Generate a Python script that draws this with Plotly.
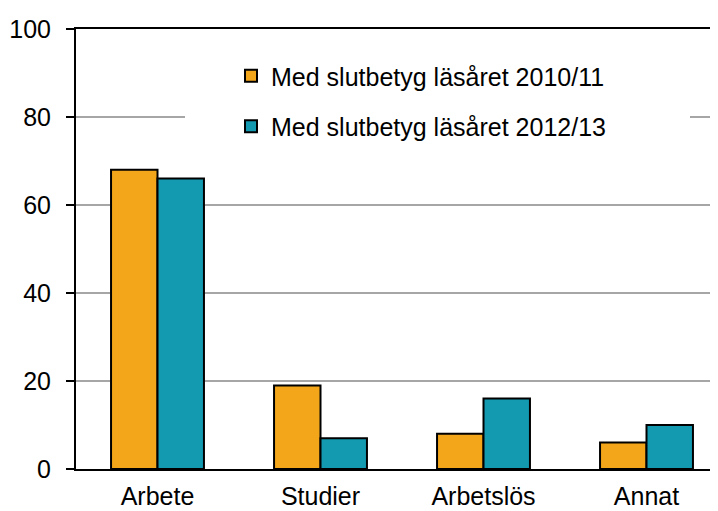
import plotly.graph_objects as go

categories = ["Arbete", "Studier", "Arbetslös", "Annat"]
series_names = ["Med slutbetyg läsåret 2010/11", "Med slutbetyg läsåret 2012/13"]
values_2010 = [68, 19, 8, 6]
values_2012 = [66, 7, 16, 10]
y_ticks = [0, 20, 40, 60, 80, 100]

colors = ["#F4A61A", "#1399B0"]
FONT = "Liberation Sans, Arial, sans-serif"

fig = go.Figure()
for i, (name, vals, col) in enumerate(zip(series_names, [values_2010, values_2012], colors)):
    fig.add_trace(go.Bar(
        x=categories, y=vals, name=name, legendgroup=f"g{i}",
        marker=dict(color=col, line=dict(color="black", width=2)),
    ))

# page body has an 8px default margin; compensate
OFF = 8
W, H = 718 - OFF, 511 - OFF
L, R, T, B = 76 - OFF, 0, 29 - OFF, 42
pw = W - L - R
ph = H - T - B

fig.add_shape(type="rect", xref="paper", yref="y",
              x0=(185 - 76) / pw, x1=(690 - 76) / pw, y0=72, y1=96,
              fillcolor="white", line=dict(width=0), layer="above")

fig.update_layout(
    width=W, height=H,
    margin=dict(l=L, r=R, t=T, b=B, pad=0),
    paper_bgcolor="white", plot_bgcolor="white",
    barmode="group", bargap=0.43, bargroupgap=0,
    font=dict(family=FONT, size=25, color="black"),
    showlegend=True,
    legend=dict(
        x=(231 - 76) / pw, y=1 - (53 - 29) / ph, xanchor="left", yanchor="top",
        bgcolor="rgba(255,255,255,0)", font=dict(size=25, family=FONT),
        traceorder="grouped", tracegroupgap=15, itemwidth=30,
    ),
    xaxis=dict(
        range=[-0.5, -0.5 + pw / 163.0],
        showline=True, linecolor="black", linewidth=2, mirror=True,
        showgrid=False, ticks="", ticklabelstandoff=4,
        tickfont=dict(size=25, family=FONT),
        automargin=False,
    ),
    yaxis=dict(
        range=[0, 100], tickvals=y_ticks,
        showline=True, linecolor="black", linewidth=2,
        showgrid=True, gridcolor="#A6A6A6", gridwidth=1.5,
        ticks="outside", ticklen=8, tickwidth=2, tickcolor="black",
        ticklabelstandoff=10,
        tickfont=dict(size=25, family=FONT),
        zeroline=False, automargin=False,
    ),
)

fig.write_html("out.html")
